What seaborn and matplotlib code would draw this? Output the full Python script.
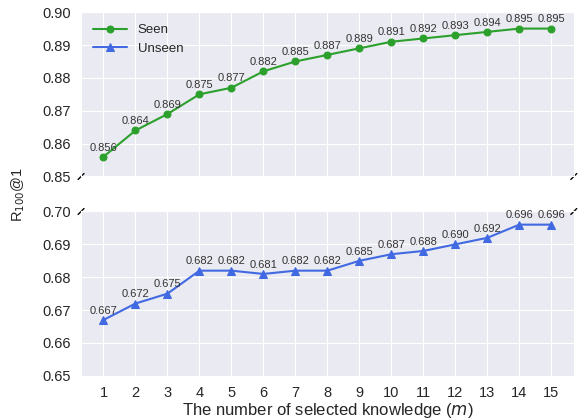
import numpy as np
import pandas as pd
import matplotlib
matplotlib.use("Agg")
import matplotlib.pyplot as plt
import seaborn as sns

# values
m = list(range(1, 16))
seen = [0.856, 0.864, 0.869, 0.875, 0.877, 0.882, 0.885, 0.887,
        0.889, 0.891, 0.892, 0.893, 0.894, 0.895, 0.895]
unseen = [0.667, 0.672, 0.675, 0.682, 0.682, 0.681, 0.682, 0.682,
          0.685, 0.687, 0.688, 0.690, 0.692, 0.696, 0.696]
top_ticks = [0.85, 0.86, 0.87, 0.88, 0.89, 0.90]
bottom_ticks = [0.65, 0.66, 0.67, 0.68, 0.69, 0.70]

sns.set_style("darkgrid")
plt.rcParams["font.family"] = ["Liberation Sans", "DejaVu Sans"]

green = "#2ca02c"
blue = "#4169e1"

df = pd.DataFrame({"m": m, "Seen": seen, "Unseen": unseen})

fig, (ax1, ax2) = plt.subplots(2, 1, sharex=True, figsize=(5.79, 4.19), dpi=100)
fig.subplots_adjust(left=0.14, right=0.991, top=0.971, bottom=0.103, hspace=0.213)

for ax in (ax1, ax2):
    sns.lineplot(data=df, x="m", y="Seen", ax=ax, color=green, marker="o",
                 markersize=5, markeredgecolor=green, linewidth=1.5, label="Seen")
    sns.lineplot(data=df, x="m", y="Unseen", ax=ax, color=blue, marker="^",
                 markersize=5.5, markeredgecolor=blue, linewidth=1.5, label="Unseen")

ax1.set_ylim(0.85, 0.90)
ax2.set_ylim(0.65, 0.70)
ax1.set_yticks(top_ticks)
ax2.set_yticks(bottom_ticks)
ax1.set_yticklabels([f"{t:.2f}" for t in top_ticks])
ax2.set_yticklabels([f"{t:.2f}" for t in bottom_ticks])
ax2.set_xticks(m)
ax1.tick_params(labelsize=10.5, labelbottom=False)
ax2.tick_params(labelsize=10.5)
ax1.set_ylabel("")
ax2.set_ylabel("")
ax1.set_xlabel("")
ax2.set_xlabel("The number of selected knowledge ($m$)", fontsize=12, labelpad=1)

for x, y in zip(m, seen):
    ax1.annotate(f"{y:.3f}", (x, y), textcoords="offset points", xytext=(0, 4.5),
                 ha="center", fontsize=8, color="#333333")
for x, y in zip(m, unseen):
    ax2.annotate(f"{y:.3f}", (x, y), textcoords="offset points", xytext=(0, 4.5),
                 ha="center", fontsize=8, color="#333333")

ax1.legend(loc="upper left", fontsize=9.5, handlelength=2.6, frameon=False)
ax2.get_legend().remove()

# break marks
d = 0.006
kw = dict(color="k", clip_on=False, linewidth=1)
ax1.plot((-d, d), (-d * 3, d * 3), transform=ax1.transAxes, **kw)
ax1.plot((1 - d, 1 + d), (-d * 3, d * 3), transform=ax1.transAxes, **kw)
ax2.plot((-d, d), (1 - d * 3, 1 + d * 3), transform=ax2.transAxes, **kw)
ax2.plot((1 - d, 1 + d), (1 - d * 3, 1 + d * 3), transform=ax2.transAxes, **kw)

fig.text(0.032, 0.535, "R$_{100}$@1", rotation=90, va="center", ha="center", fontsize=10.5)

plt.savefig("out.png", dpi=100)
